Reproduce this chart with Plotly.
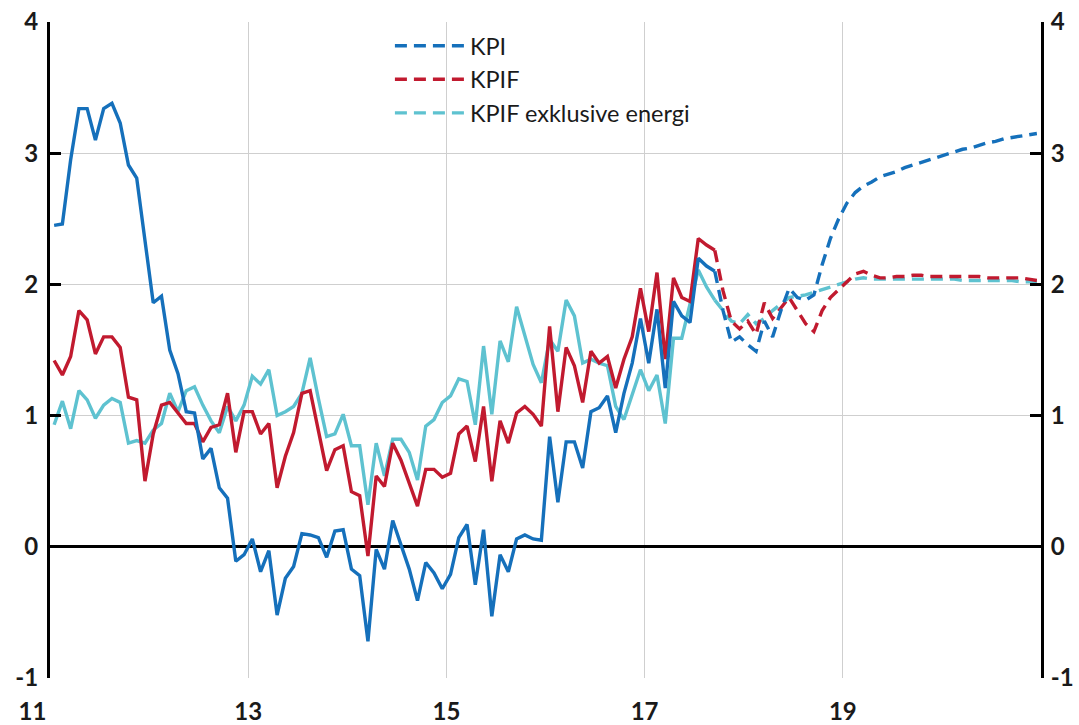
import plotly.graph_objects as go

# Monthly data, Jan 2011 = month 0. Outcome through month 80 (Sep 2017), forecast after.
kpi_outcome = [2.45, 2.46, 2.95, 3.34, 3.34, 3.10, 3.34, 3.38, 3.23, 2.91, 2.81, 2.35,
               1.86, 1.91, 1.50, 1.32, 1.03, 1.02, 0.67, 0.75, 0.45, 0.37, -0.11, -0.06,
               0.06, -0.19, -0.03, -0.52, -0.24, -0.15, 0.10, 0.09, 0.07, -0.08, 0.12, 0.13,
               -0.17, -0.22, -0.72, -0.02, -0.17, 0.20, 0.01, -0.17, -0.41, -0.12, -0.20, -0.32,
               -0.21, 0.07, 0.17, -0.29, 0.13, -0.53, -0.06, -0.19, 0.06, 0.09, 0.06, 0.05,
               0.84, 0.34, 0.80, 0.80, 0.60, 1.03, 1.06, 1.15, 0.87, 1.17, 1.40, 1.74,
               1.40, 1.81, 1.21, 1.87, 1.76, 1.71, 2.20, 2.14, 2.10]
kpi_forecast = [1.80, 1.56, 1.60, 1.54, 1.49, 1.72, 1.60, 1.80, 1.97, 1.90, 1.88, 1.92,
                2.15, 2.35, 2.50, 2.62, 2.70, 2.75, 2.78, 2.82, 2.84, 2.86, 2.89, 2.91,
                2.93, 2.95, 2.97, 2.99, 3.01, 3.03, 3.04, 3.06, 3.08, 3.09, 3.11, 3.12,
                3.13, 3.14, 3.15]

kpif_outcome = [1.42, 1.31, 1.45, 1.80, 1.73, 1.47, 1.60, 1.60, 1.52, 1.14, 1.12, 0.50,
                0.86, 1.08, 1.10, 1.02, 0.94, 0.94, 0.80, 0.91, 0.93, 1.17, 0.72, 1.03,
                1.03, 0.86, 0.94, 0.45, 0.69, 0.87, 1.17, 1.19, 0.89, 0.58, 0.74, 0.77,
                0.42, 0.39, -0.07, 0.54, 0.46, 0.79, 0.66, 0.49, 0.31, 0.59, 0.59, 0.53,
                0.56, 0.86, 0.92, 0.65, 1.07, 0.50, 0.96, 0.79, 1.02, 1.07, 1.01, 0.92,
                1.68, 1.03, 1.52, 1.38, 1.10, 1.49, 1.40, 1.45, 1.21, 1.43, 1.60, 1.97,
                1.64, 2.09, 1.43, 2.05, 1.90, 1.87, 2.35, 2.30, 2.26]
kpif_forecast = [1.95, 1.72, 1.66, 1.72, 1.62, 1.86, 1.74, 1.82, 1.90, 1.80, 1.70, 1.64,
                 1.80, 1.90, 1.96, 2.02, 2.08, 2.10, 2.07, 2.05, 2.05, 2.06, 2.06, 2.07,
                 2.07, 2.06, 2.06, 2.06, 2.06, 2.06, 2.06, 2.06, 2.05, 2.05, 2.05, 2.05,
                 2.05, 2.04, 2.03]

kpifx_outcome = [0.93, 1.11, 0.90, 1.19, 1.12, 0.98, 1.08, 1.13, 1.10, 0.79, 0.81, 0.79,
                 0.89, 0.94, 1.17, 1.03, 1.19, 1.22, 1.08, 0.96, 0.87, 1.07, 0.96, 1.08,
                 1.30, 1.24, 1.35, 1.00, 1.03, 1.07, 1.17, 1.44, 1.13, 0.84, 0.86, 1.01,
                 0.77, 0.77, 0.32, 0.79, 0.54, 0.82, 0.82, 0.72, 0.51, 0.92, 0.97, 1.10,
                 1.15, 1.28, 1.26, 0.93, 1.53, 1.01, 1.57, 1.41, 1.83, 1.60, 1.39, 1.25,
                 1.58, 1.49, 1.88, 1.76, 1.40, 1.43, 1.40, 1.38, 1.07, 0.97, 1.17, 1.35,
                 1.19, 1.31, 0.94, 1.59, 1.59, 1.85, 2.11, 1.98, 1.88]
kpifx_forecast = [1.80, 1.72, 1.70, 1.77, 1.70, 1.74, 1.80, 1.85, 1.90, 1.91, 1.92, 1.94,
                  1.96, 1.98, 2.00, 2.02, 2.04, 2.05, 2.04, 2.04, 2.04, 2.04, 2.04, 2.04,
                  2.04, 2.04, 2.04, 2.04, 2.04, 2.03, 2.03, 2.03, 2.03, 2.03, 2.03, 2.03,
                  2.02, 2.02, 2.02]

series_names = ["KPI", "KPIF", "KPIF exklusive energi"]
colors = ["#1570bb", "#c11a2f", "#5ec2d0"]
x_tick_vals = [2011, 2013, 2015, 2017, 2019]
x_tick_text = ["11" + "\u00a0" * 6, "13", "15", "17", "19"]
y_tick_vals = [-1, 0, 1, 2, 3, 4]
y_tick_text = ["-1", "0", "1", "2", "3", "4"]

start_year = 2011
n_out = len(kpi_outcome)


def month_x(i):
    return start_year + (i + 0.5) / 12.0


x_out = [month_x(i) for i in range(n_out)]
x_fc = [month_x(i) for i in range(n_out - 1, n_out + len(kpi_forecast))]

data = [
    (series_names[0], colors[0], kpi_outcome, kpi_forecast, 1),
    (series_names[1], colors[1], kpif_outcome, kpif_forecast, 2),
    (series_names[2], colors[2], kpifx_outcome, kpifx_forecast, 3),
]

fig = go.Figure()
# draw order: light blue, red, blue (blue on top)
for name, col, out, fc, rank in reversed(data):
    fig.add_trace(go.Scatter(x=x_out, y=out, mode="lines", name=name,
                             line=dict(color=col, width=3.4), showlegend=False,
                             hoverinfo="skip"))
    fig.add_trace(go.Scatter(x=x_fc, y=[out[-1]] + fc, mode="lines", name=name,
                             line=dict(color=col, width=3.4, dash="12px,7px"),
                             showlegend=True, legendrank=rank, hoverinfo="skip"))

fig.add_trace(go.Scatter(x=[None], y=[None], yaxis="y2", showlegend=False,
                         hoverinfo="skip"))

tickfont = dict(family="Lato, Open Sans, sans-serif", size=24, color="#1a1a1a",
                weight="bold")

fig.update_layout(
    width=1079, height=725,
    margin=dict(l=49.5, r=37.5, t=22, b=47),
    paper_bgcolor="white", plot_bgcolor="white",
    showlegend=True,
    legend=dict(x=0.343, y=0.997, xanchor="left", yanchor="top",
                bgcolor="rgba(0,0,0,0)", borderwidth=0,
                font=dict(family="Lato, Open Sans, sans-serif", size=23.5, color="#1a1a1a"),
                itemwidth=70),
    xaxis=dict(range=[2011, 2021], tickvals=x_tick_vals, ticktext=x_tick_text,
               showgrid=True, gridcolor="#cfcfcf", gridwidth=1,
               showline=False, ticks="", zeroline=False, tickfont=tickfont,
               ticklabelstandoff=17, automargin=False),
    yaxis=dict(range=[-1, 4], tickvals=y_tick_vals, ticktext=y_tick_text,
               showgrid=True, gridcolor="#cfcfcf", gridwidth=1,
               showline=True, linecolor="black", linewidth=3,
               ticks="inside", ticklen=11, tickwidth=3, tickcolor="black",
               zeroline=True, zerolinecolor="black", zerolinewidth=3,
               tickfont=tickfont, ticklabelstandoff=4, automargin=False),
    yaxis2=dict(range=[-1, 4], tickvals=y_tick_vals, ticktext=y_tick_text,
                overlaying="y", side="right", anchor="x",
                showgrid=False, zeroline=False,
                showline=True, linecolor="black", linewidth=3,
                ticks="inside", ticklen=11, tickwidth=3, tickcolor="black",
                tickfont=tickfont, ticklabelstandoff=2, automargin=False),
)

fig.write_html("out.html", config={"displayModeBar": False},
               post_script="document.body.style.margin='0';document.body.style.overflow='hidden';")
